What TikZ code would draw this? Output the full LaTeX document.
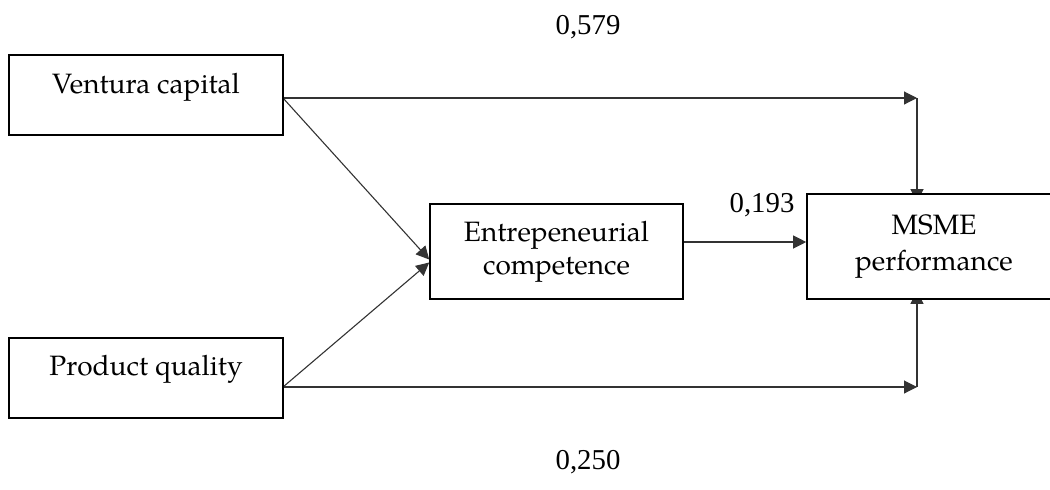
\documentclass[tikz,border=0pt]{standalone}
\usepackage{fontspec}
\setmainfont{texgyrepagella-regular.otf}
\newfontfamily\numfont{Liberation Serif}
\usetikzlibrary{arrows.meta}
\pgfdeclarelayer{background}
\pgfsetlayers{background,main}
\begin{document}
\begin{tikzpicture}[x=0.5pt,y=-0.5pt,
  box/.style={draw=black,line width=0.8pt,fill=white,rectangle,inner sep=0pt,font=\fontsize{14}{16.5}\selectfont,align=center},
  conn/.style={draw=black!80,line width=0.55pt,-{Triangle[length=6.5pt,width=6.5pt]}},
  num/.style={font=\numfont\fontsize{14.4}{16}\selectfont,inner sep=0pt}]
\useasboundingbox (0,0) rectangle (1050,489);
\node[box,minimum width=137pt,minimum height=40pt,text height=10pt,text depth=12pt] (vc) at (146,95) {Ventura capital};
\node[box,minimum width=137pt,minimum height=40pt,text height=10pt,text depth=13pt] (pq) at (146,378) {Product quality};
\node[box,minimum width=126.5pt,minimum height=47.5pt] (ec) at (556.5,251.5) {\raisebox{-1.5pt}{Entrepeneurial}\\\raisebox{-1.5pt}{competence}};
\node[box,minimum width=127pt,minimum height=52.5pt,font=\fontsize{14}{17.5}\selectfont] (ms) at (934,246.5) {MSME\\performance};
\coordinate (c1) at (917,98);
\coordinate (c2) at (917,387);
\coordinate (vcr) at (283,98);
\coordinate (pqr) at (283,387);
\begin{pgfonlayer}{background}
\draw[conn] (vcr) -- (c1);
\draw[conn] (c1) -- ([yshift=-4.5pt]ms.north -| c1);
\draw[conn] (pqr) -- (c2);
\draw[conn] (c2) -- ([yshift=4.5pt]ms.south -| c2);
\draw[conn] (vcr) -- ([yshift=-4pt]ec.west);
\draw[conn] (pqr) -- ([yshift=-5.5pt]ec.west);
\draw[conn] (ec.east |- 0,242) -- (ms.west |- 0,242);
\end{pgfonlayer}
\node[num] (n1) at (588,27) {0,579};
\node[num] (n2) at (762,205) {0,193};
\node[num] (n3) at (588,462) {0,250};
\end{tikzpicture}
\end{document}
